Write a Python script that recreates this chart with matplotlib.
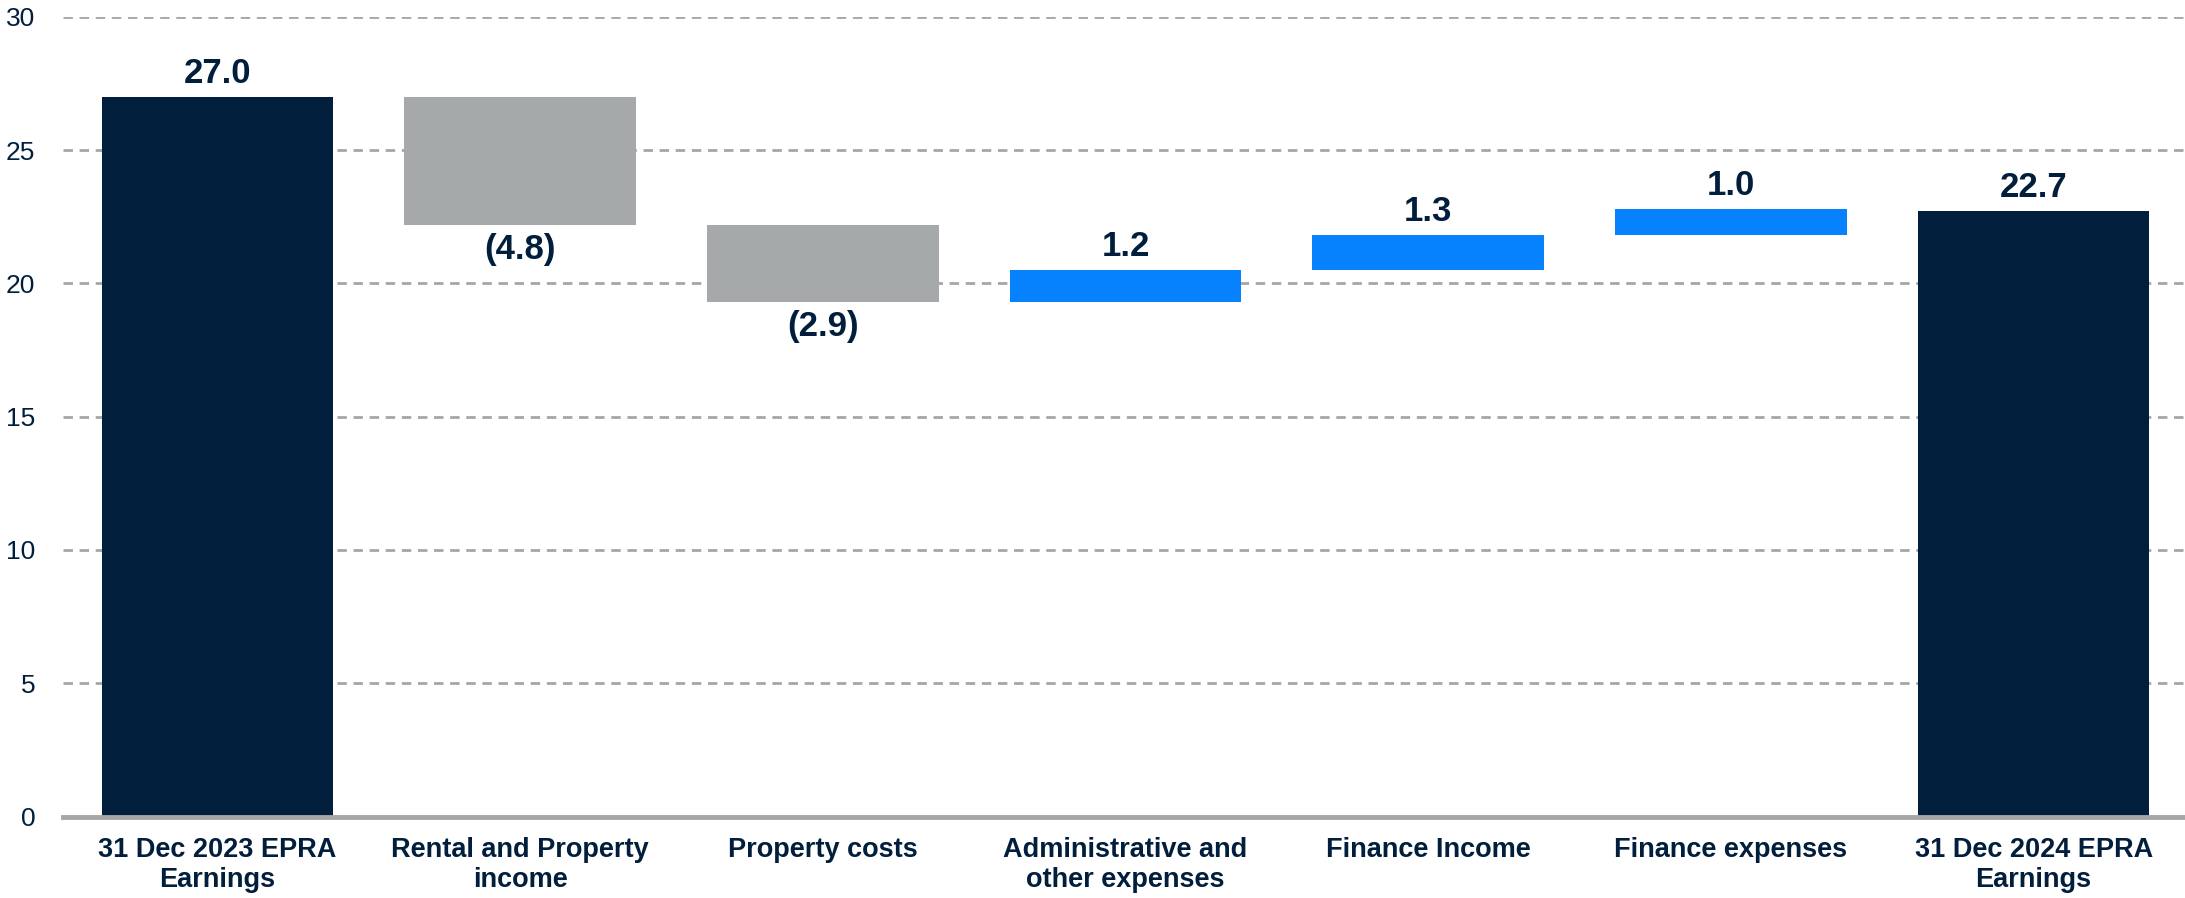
import matplotlib
matplotlib.use("Agg")
import matplotlib.pyplot as plt
import numpy as np

# EPRA earnings bridge, 2023 -> 2024
categories = ["31 Dec 2023 EPRA\nEarnings", "Rental and Property\nincome", "Property costs",
              "Administrative and\nother expenses", "Finance Income", "Finance expenses",
              "31 Dec 2024 EPRA\nEarnings"]
opening = 27.0
movements = [-4.8, -2.9, 1.2, 1.3, 1.0]
closing = 22.7

NAVY = "#011e3c"
GREY = "#a6a9a9"
BLUE = "#0682ff"
GRID = "#a6a6a6"

plt.rcParams['font.family'] = ['Liberation Sans Narrow', 'Liberation Sans', 'DejaVu Sans']

# floating bars start where the running total left off
running = opening + np.concatenate([[0], np.cumsum(movements)])
heights = [opening] + movements + [closing]
bottoms = [0] + [running[i] if m >= 0 else running[i] + m for i, m in enumerate(movements)] + [0]
sizes = [opening] + [abs(m) for m in movements] + [closing]
colours = [NAVY] + [BLUE if m >= 0 else GREY for m in movements] + [NAVY]

fig = plt.figure(figsize=(21.85, 8.98), dpi=100)
ax = fig.add_axes([0.0288, 0.0906, 0.9712, 0.8908])

x = np.arange(len(categories))
ax.bar(x, sizes, bottom=bottoms, width=0.765, color=colours, zorder=3)

for xi, h, b, s in zip(x, heights, bottoms, sizes):
    if h >= 0:
        ax.annotate(f"{h:.1f}", (xi, b + s), xytext=(0, 5), textcoords="offset points",
                    ha="center", va="bottom", fontsize=25, fontweight="bold", color=NAVY)
    else:
        ax.annotate(f"({abs(h):.1f})", (xi, b), xytext=(0, -6), textcoords="offset points",
                    ha="center", va="top", fontsize=25, fontweight="bold", color=NAVY)

ax.set_ylim(0, 30)
ax.set_xlim(-0.51, 6.5)
ax.set_yticks(range(0, 31, 5))
ax.set_xticks(x)
ax.set_xticklabels(categories, fontsize=19.5, fontweight="bold", color=NAVY, linespacing=1.2)
ax.tick_params(axis="x", length=0, pad=15)
ax.tick_params(axis="y", length=0, pad=20, labelsize=19, labelcolor=NAVY)

ax.yaxis.grid(True, linestyle=(0, (3.4, 2.4)), color=GRID, linewidth=2, zorder=0)
for side in ["top", "right", "left"]:
    ax.spines[side].set_visible(False)
ax.spines["bottom"].set_color(GRID)
ax.spines["bottom"].set_linewidth(3.5)
ax.spines["bottom"].set_zorder(4)

fig.savefig("out.png", dpi=100)
